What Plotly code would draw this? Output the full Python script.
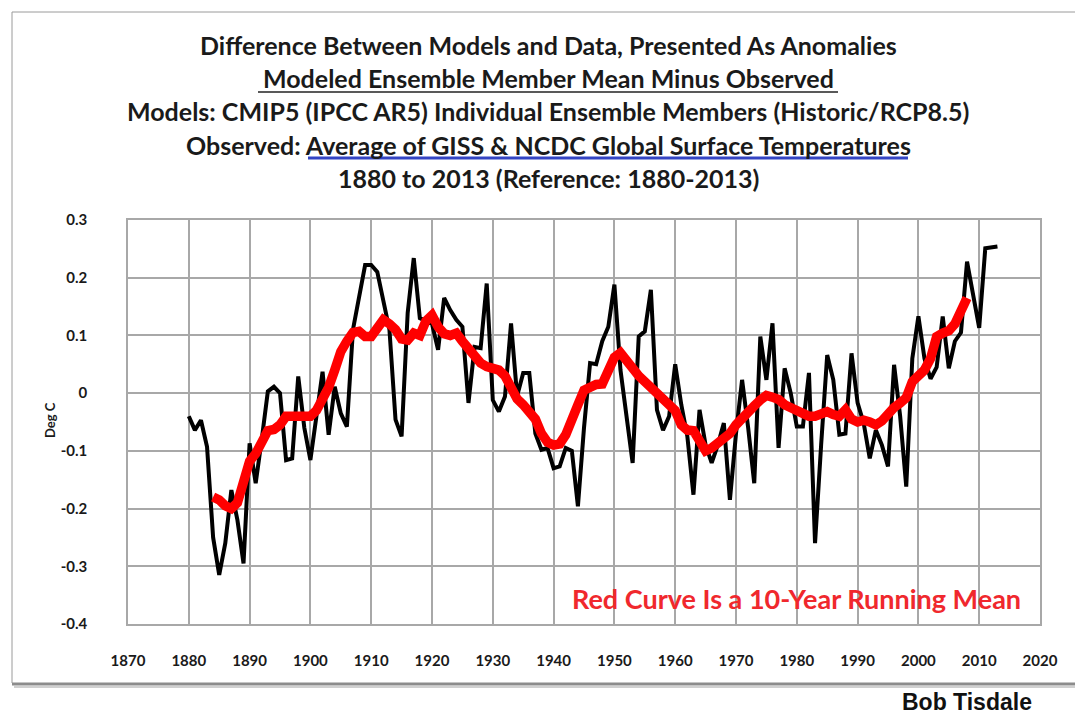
import plotly.graph_objects as go

# ---------------- data ----------------
obs_years = list(range(1880, 2014))
obs_diff = [
    -0.040, -0.064, -0.047, -0.093, -0.250, -0.315, -0.260, -0.168, -0.220, -0.295,  # 1880s
    -0.087, -0.156, -0.080, 0.003, 0.011, 0.000, -0.116, -0.113, 0.029, -0.060,      # 1890s
    -0.116, -0.040, 0.037, -0.072, 0.011, -0.035, -0.058, 0.110, 0.167, 0.222,       # 1900s
    0.222, 0.210, 0.160, 0.110, -0.046, -0.075, 0.139, 0.234, 0.130, 0.125,          # 1910s
    0.120, 0.075, 0.165, 0.144, 0.127, 0.115, -0.017, 0.080, 0.078, 0.190,           # 1920s
    -0.012, -0.032, -0.006, 0.121, -0.005, 0.035, 0.035, -0.070, -0.098, -0.095,     # 1930s
    -0.130, -0.127, -0.095, -0.100, -0.196, -0.060, 0.052, 0.050, 0.090, 0.115,      # 1940s
    0.188, 0.040, -0.040, -0.121, 0.098, 0.107, 0.179, -0.029, -0.064, -0.040,       # 1950s
    0.050, -0.020, -0.075, -0.176, -0.029, -0.090, -0.121, -0.090, -0.052, -0.185,   # 1960s
    -0.070, 0.023, -0.060, -0.156, 0.098, 0.023, 0.121, -0.095, 0.043, 0.000,        # 1970s
    -0.058, -0.058, 0.035, -0.260, -0.090, 0.066, 0.023, -0.072, -0.070, 0.069,      # 1980s
    -0.017, -0.052, -0.113, -0.064, -0.090, -0.127, 0.049, -0.040, -0.162, 0.060,    # 1990s
    0.133, 0.060, 0.025, 0.045, 0.133, 0.043, 0.090, 0.105, 0.228, 0.170,            # 2000s
    0.113, 0.251, 0.252, 0.254,                                                      # 2010s
]

rm_years = list(range(1884, 2009))
rm_diff = [
    -0.180, -0.185, -0.195, -0.200, -0.190, -0.150,                                  # 1884-1889
    -0.118, -0.105, -0.085, -0.065, -0.063, -0.055, -0.040, -0.038, -0.040, -0.040,  # 1890s
    -0.040, -0.030, -0.010, 0.010, 0.040, 0.072, 0.090, 0.105, 0.107, 0.098,         # 1900s
    0.098, 0.115, 0.127, 0.120, 0.110, 0.094, 0.092, 0.104, 0.100, 0.125,            # 1910s
    0.135, 0.115, 0.103, 0.100, 0.104, 0.090, 0.075, 0.063, 0.052, 0.046,            # 1920s
    0.045, 0.040, 0.030, 0.010, -0.010, -0.020, -0.030, -0.045, -0.070, -0.085,      # 1930s
    -0.090, -0.088, -0.072, -0.050, -0.020, 0.005, 0.012, 0.015, 0.016, 0.040,       # 1940s
    0.062, 0.070, 0.055, 0.040, 0.030, 0.020, 0.010, 0.000, -0.005, -0.015,          # 1950s
    -0.030, -0.055, -0.064, -0.065, -0.085, -0.100, -0.095, -0.088, -0.080, -0.070,  # 1960s
    -0.055, -0.042, -0.035, -0.022, -0.012, -0.004, -0.007, -0.011, -0.020, -0.027,  # 1970s
    -0.030, -0.035, -0.040, -0.040, -0.035, -0.032, -0.037, -0.040, -0.029, -0.045,  # 1980s
    -0.050, -0.047, -0.050, -0.055, -0.048, -0.035, -0.025, -0.017, -0.008, 0.020,   # 1990s
    0.030, 0.040, 0.060, 0.098, 0.104, 0.108, 0.120, 0.140, 0.165,                   # 2000-2008
]

x_ticks = list(range(1870, 2021, 10))
y_ticks = [0.3, 0.2, 0.1, 0.0, -0.1, -0.2, -0.3, -0.4]
y_tick_labels = ["0.3", "0.2", "0.1", "0", "-0.1", "-0.2", "-0.3", "-0.4"]

title_lines = [
    "Difference Between Models and Data, Presented As Anomalies",
    "Modeled Ensemble Member Mean Minus Observed",
    "Models: CMIP5 (IPCC AR5) Individual Ensemble Members (Historic/RCP8.5)",
    "Observed: Average of GISS & NCDC Global Surface Temperatures",
    "1880 to 2013 (Reference: 1880-2013)",
]
note_text = "Red Curve Is a 10-Year Running Mean"
credit_text = "Bob Tisdale"
y_title = "Deg C"

assert len(obs_diff) == len(obs_years)
assert len(rm_diff) == len(rm_years)

# ---------------- layout geometry ----------------
W, H = 1075, 718
L, R, T, B = 128, 35, 220, 94
PW, PH = W - L - R, H - T - B


def px(xp):
    return (xp - L) / PW


def py(yp):
    return (H - B - yp) / PH


FONT = "Lato, Open Sans, sans-serif"
TXT = "#1a1a1a"
GRID = "#a8a8a8"

fig = go.Figure()
fig.add_trace(go.Scatter(x=obs_years, y=obs_diff, mode="lines",
                         line=dict(color="black", width=4), hoverinfo="skip"))
fig.add_trace(go.Scatter(x=rm_years, y=rm_diff, mode="lines",
                         line=dict(color="#ff0000", width=9.5), hoverinfo="skip"))

annotations = []
title_y = [45, 78, 111, 145, 178]
for t, yy in zip(title_lines, title_y):
    annotations.append(dict(text=t, x=px(548), y=py(yy), xref="paper", yref="paper",
                            xanchor="center", yanchor="middle", showarrow=False,
                            font=dict(family=FONT, size=25, color=TXT, weight="bold")))
annotations.append(dict(text=note_text, x=px(796), y=py(598), xref="paper", yref="paper",
                        xanchor="center", yanchor="middle", showarrow=False,
                        font=dict(family=FONT, size=27, color="#f0282d", weight="bold")))
annotations.append(dict(text=credit_text, x=px(900), y=py(702), xref="paper", yref="paper",
                        xanchor="left", yanchor="middle", showarrow=False,
                        font=dict(family="Liberation Sans, Arial, sans-serif", size=23,
                                  color="#111111", weight="bold")))
annotations.append(dict(text=y_title, x=px(50), y=py(420), xref="paper", yref="paper",
                        xanchor="center", yanchor="middle", showarrow=False, textangle=-90,
                        font=dict(family=FONT, size=13, color=TXT, weight="bold")))

shapes = [
    # outer frame
    dict(type="line", xref="paper", yref="paper", x0=px(12), x1=px(1080), y0=py(12), y1=py(12),
         line=dict(color="#9a9a9a", width=1)),
    dict(type="line", xref="paper", yref="paper", x0=px(12), x1=px(12), y0=py(12), y1=py(683),
         line=dict(color="#9a9a9a", width=1)),
    dict(type="line", xref="paper", yref="paper", x0=px(12), x1=px(1080), y0=py(684), y1=py(684),
         line=dict(color="#8c8c8c", width=3)),
    dict(type="line", xref="paper", yref="paper", x0=px(14), x1=px(1080), y0=py(687), y1=py(687),
         line=dict(color="#d0d0d0", width=2)),
    # title underlines
    dict(type="line", xref="paper", yref="paper", x0=px(258), x1=px(838), y0=py(92), y1=py(92),
         line=dict(color="#222222", width=1.5)),
    dict(type="line", xref="paper", yref="paper", x0=px(308), x1=px(908), y0=py(158), y1=py(158),
         line=dict(color="#3344c4", width=3)),
]

fig.update_layout(
    width=W, height=H,
    margin=dict(l=L, r=R, t=T, b=B, pad=0),
    paper_bgcolor="white", plot_bgcolor="white",
    showlegend=False,
    annotations=annotations,
    shapes=shapes,
    xaxis=dict(range=[1870, 2020], tickmode="array", tickvals=x_ticks,
               ticktext=[str(v) for v in x_ticks],
               showgrid=True, gridcolor=GRID, gridwidth=1.5, zeroline=False,
               showline=True, linecolor=GRID, linewidth=1.5, mirror=True,
               ticks="", ticklabelstandoff=22,
               tickfont=dict(family=FONT, size=15, color=TXT, weight="bold")),
    yaxis=dict(range=[-0.4, 0.3], tickmode="array", tickvals=y_ticks, ticktext=y_tick_labels,
               showgrid=True, gridcolor=GRID, gridwidth=1.5, zeroline=False,
               showline=True, linecolor=GRID, linewidth=1.5, mirror=True,
               ticks="", ticklabelstandoff=36,
               tickfont=dict(family=FONT, size=15, color=TXT, weight="bold")),
)

fig.write_html(
    "out.html",
    config={"displayModeBar": False},
    post_script="document.body.style.margin='0';document.body.style.overflow='hidden';",
)
